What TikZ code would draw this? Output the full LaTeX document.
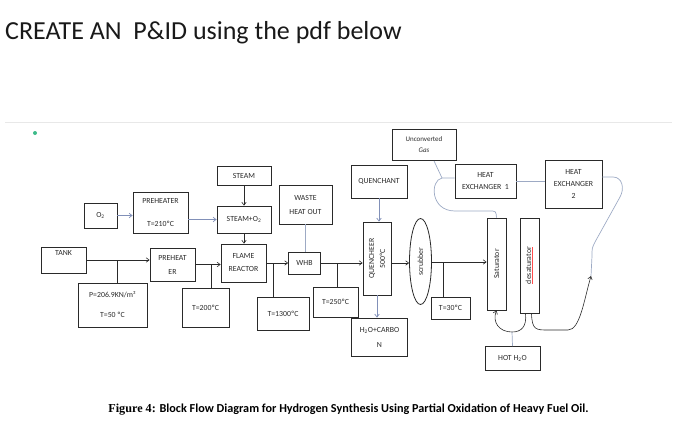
\documentclass[tikz,border=0pt]{standalone}
\usepackage{fontspec}
\setmainfont{Carlito}
\newfontfamily\capserif{Liberation Serif}
\usetikzlibrary{arrows.meta,shapes.geometric}
\definecolor{BoxInk}{HTML}{2A2A2A}
\definecolor{FlowBlue}{HTML}{8190B8}
\definecolor{PipeGray}{HTML}{9DAAC4}
\definecolor{RuleGray}{HTML}{E8E8E8}
\definecolor{DotGreen}{HTML}{3DBB8A}
\tikzset{
  blk/.style 2 args={draw=BoxInk,line width=0.8pt,minimum width=#1,minimum height=#2,
    inner sep=0pt,align=center,font=\fontsize{7.8}{9}\selectfont,text=BoxInk},
  rot/.style={rotate=90,align=center,font=\fontsize{7.8}{9}\selectfont,text=BoxInk},
  flow/.style={->,draw=BoxInk,line width=0.6pt},
  feed/.style={->,draw=FlowBlue,line width=0.7pt},
  pipe/.style={draw=PipeGray,line width=0.7pt},
  tap/.style={draw=BoxInk,line width=0.6pt}
}

\begin{document}
\begin{tikzpicture}[x=1pt,y=-1pt,>={Straight Barb[length=3pt,width=4.5pt]}]
  \useasboundingbox (0,0) rectangle (700,441);

  \node[anchor=base west,inner sep=0pt,font=\fontsize{26}{30}\selectfont,text=black!90] (heading) at (5,40)
    {CREATE AN\ \ P\&ID using the pdf below};
  \draw[RuleGray,line width=0.6pt] (5,122) -- (672,122);
  \fill[DotGreen] (35,133) circle[radius=2pt];

  \node[blk={64}{31},font=\fontsize{7}{8}\selectfont] (unconv) at (424,145) {Unconverted\\[3pt]\textit{Gas}};
  \node[blk={54}{19}] (steam) at (244,175.5) {STEAM};
  \node[blk={56}{33}] (quenchant) at (379,181.5) {QUENCHANT};
  \node[blk={61}{34}] (hx1) at (485.5,181) {HEAT\\[3pt]EXCHANGER\ \ 1};
  \node[blk={57}{48}] (hx2) at (573.5,184) {HEAT\\[3pt]EXCHANGER\\[3pt]2};
  \node[blk={53}{39}] (waste) at (305.5,204.5) {WASTE\\[5pt]HEAT OUT};
  \node[blk={55}{41}] (preheatA) at (160.5,212.5) {PREHEATER\\[14pt]T=210ºC};
  \node[blk={33}{25}] (o2) at (100.5,215.5) {O\textsubscript{2}};
  \node[blk={54}{27}] (steamo2) at (244,219.5) {STEAM+O\textsubscript{2}};
  \node[blk={45}{26}] (tank) at (63.5,260) {TANK\\[6pt]};
  \node[blk={45}{33}] (preheatB) at (172.5,264.5) {PREHEAT\\[5pt]ER};
  \node[blk={45}{38}] (flame) at (243.5,263) {FLAME\\[4pt]REACTOR};
  \node[blk={32}{22}] (whb) at (304.5,263) {WHB};
  \node[blk={28}{73},label={[rot]center:QUENCHEER\\[2pt]500ºC}] (quencheer) at (377,258.5) {};
  \node[draw=BoxInk,line width=0.8pt,ellipse,minimum width=22,minimum height=86,inner sep=0pt,
    label={[rot]center:scrubber}] (scrubber) at (420.5,261.5) {};
  \node[blk={19}{92},label={[rot]center:Saturator}] (sat) at (496.5,264) {};
  \node[blk={19}{95},label={[rot]center:\textcolor{red!70}{\underline{\textcolor{BoxInk}{desaturator}}}}] (desat) at (529.5,265.5) {};
  \node[blk={69}{44}] (pbox) at (112.5,305) {P=206.9KN/m²\\[11pt]T=50 ºC};
  \node[blk={47}{39}] (t200) at (205.5,307.5) {T=200ºC};
  \node[blk={52}{33}] (t1300) at (283,313.5) {T=1300ºC};
  \node[blk={45}{30}] (t250) at (335.5,302) {T=250ºC};
  \node[blk={39}{22}] (t30) at (450.5,308) {T=30ºC};
  \node[blk={56}{38}] (h2oc) at (379.5,337) {H\textsubscript{2}O+CARBO\\[6pt]N};
  \node[blk={55}{24}] (hoth2o) at (512.5,358.5) {HOT H\textsubscript{2}O};

  \node[anchor=base,inner sep=0pt,font=\bfseries\fontsize{12.2}{14}\selectfont] (caption) at (348.5,412)
    {{\capserif Figure 4:} Block Flow Diagram for Hydrogen Synthesis Using Partial Oxidation of Heavy Fuel Oil.};

  \coordinate (tankTap) at (117,260);
  \coordinate (heatTap) at (211,264.5);
  \coordinate (flameTap) at (273,263);
  \coordinate (whbTap) at (337,263);
  \coordinate (scrubTap) at (443,262);
  \coordinate (gasSplit) at (442,178);
  \coordinate (mixIn) at (591,276);
  \coordinate (hotTop) at (512,332);

  \draw[feed] (o2.east) -- (o2.east -| preheatA.west);
  \draw[feed] (steamo2 -| preheatA.east) -- (steamo2.west);
  \draw[flow] (steam) -- (steamo2);
  \draw[flow] (steamo2.south) -- (steamo2.south |- flame.north);
  \draw[flow] (tank.east |- tankTap) -- (tankTap -| preheatB.west);
  \draw[tap] (tankTap) -- (tankTap |- pbox.north);
  \draw[flow] (preheatB.east) -- (preheatB.east -| flame.west);
  \draw[tap] (heatTap) -- (heatTap |- t200.north);
  \draw[flow] (flame.east |- flameTap) -- (flameTap -| whb.west);
  \draw[tap] (flameTap) -- (flameTap |- t1300.north);
  \draw[pipe] (waste.south) -- (waste.south |- whb.north);
  \draw[flow] (whb.east |- whbTap) -- (whbTap -| quencheer.west);
  \draw[tap] (whbTap) -- (whbTap |- t250.north);
  \draw[feed] (quenchant.south) -- (quenchant.south |- quencheer.north);
  \draw[feed] (quencheer.south) -- (quencheer.south |- h2oc.north);
  \draw[flow] (quencheer.east |- 0,263) -- (scrubber.west |- 0,263);
  \draw[flow] (scrubber.east |- scrubTap) -- (scrubTap -| sat.west);
  \draw[tap] (scrubTap) -- (scrubTap |- t30.north);

  \draw[pipe] ([xshift=10pt]unconv.south) -- (gasSplit) -- (gasSplit -| hx1.west);
  \draw[pipe] (gasSplit) .. controls (430,180) and (430,211) .. (455,211) -- (489,211)
    .. controls (496,211) .. (sat.north);
  \draw[pipe] (hx1.east) -- (hx1.east -| hx2.west);
  \draw[pipe] ([yshift=7pt]hx2.east) -- (613,177) .. controls (622,177) and (625,188) .. (620,197)
    -- (595,242) .. controls (592,248) .. (592,256) -- (mixIn);
  \draw[flow] ([xshift=2pt]desat.south) .. controls (532,330) and (536,330) .. (548,330) -- (568,330)
    .. controls (580,330) and (584,300) .. (mixIn);
  \draw[flow] ([xshift=-4pt]desat.south) .. controls (527,327) and (521,332) .. (hotTop)
    .. controls (499,332) and (492,322) .. (sat.south);
  \draw[pipe] (hoth2o.north) -- (hotTop);
\end{tikzpicture}
\end{document}
